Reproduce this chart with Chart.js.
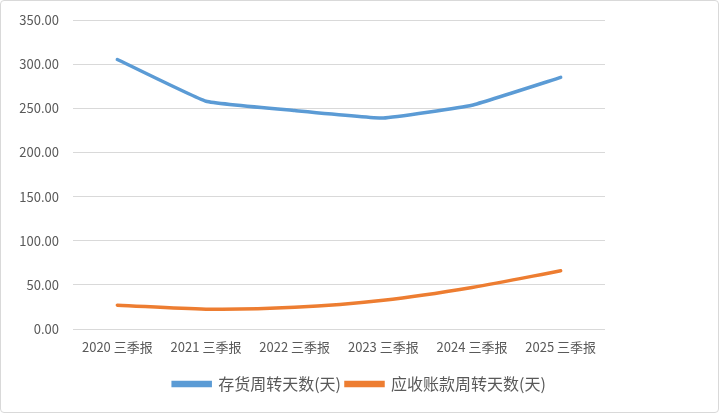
<!DOCTYPE html>
<html>
<head>
<meta charset="utf-8">
<script src="https://cdn.jsdelivr.net/npm/chart.js@4/dist/chart.umd.min.js"></script>
<style>
  html, body { margin: 0; padding: 0; background: #fff; }
  #wrap { position: relative; width: 717px; height: 411px; border: 1px solid #d9d9d9; border-radius: 4px; }
  canvas { display: block; }
</style>
</head>
<body>
<div id="wrap"><canvas id="c" width="717" height="411"></canvas></div>
<script>
const categories = ["2020 三季报", "2021 三季报", "2022 三季报", "2023 三季报", "2024 三季报", "2025 三季报"];
const inventoryDays = [305.3, 258.0, 247.5, 239.0, 253.5, 285.0];
const receivableDays = [27.0, 22.5, 24.5, 32.5, 47.0, 66.0];
const seriesNames = ["存货周转天数(天)", "应收账款周转天数(天)"];
const yTicks = [0, 50, 100, 150, 200, 250, 300, 350];

const blue = '#5b9bd5';
const orange = '#ed7d31';
const font = "'Noto Sans CJK SC', 'Open Sans', sans-serif";

new Chart(document.getElementById('c'), {
  type: 'line',
  data: {
    labels: categories,
    datasets: [
      {
        label: seriesNames[0],
        data: inventoryDays,
        borderColor: blue,
        backgroundColor: blue,
        borderWidth: 3.5,
        pointRadius: 0,
        tension: 0.1,
        borderCapStyle: 'round'
      },
      {
        label: seriesNames[1],
        data: receivableDays,
        borderColor: orange,
        backgroundColor: orange,
        borderWidth: 3.5,
        pointRadius: 0,
        tension: 0.3,
        borderCapStyle: 'round'
      }
    ]
  },
  options: {
    responsive: false,
    animation: false,
    layout: { padding: { left: 0, right: 0, top: 19, bottom: 10 } },
    plugins: {
      legend: {
        position: 'bottom',
        labels: {
          boxWidth: 37,
          boxHeight: 3,
          padding: 5,
          color: '#595959',
          font: { family: font, size: 16 }
        }
      },
      tooltip: { enabled: false }
    },
    scales: {
      x: {
        offset: true,
        grid: { display: false, drawTicks: false },
        border: { display: false },
        ticks: { color: '#595959', font: { family: font, size: 13 }, padding: 10, maxRotation: 0 },
        afterFit: s => { s.height = 42; }
      },
      y: {
        min: 0,
        max: 350,
        afterBuildTicks: s => { s.ticks = yTicks.map(v => ({ value: v })); },
        grid: { color: '#d9d9d9', lineWidth: 1, drawTicks: false },
        border: { display: false },
        ticks: {
          color: '#595959',
          font: { family: font, size: 13 },
          padding: 14,
          callback: v => Number(v).toFixed(2)
        },
        afterFit: s => { s.width = 72; s.paddingTop = 8; s.paddingBottom = 8; }
      },
      spacer: {
        position: 'right',
        min: 0,
        max: 1,
        grid: { display: false, drawTicks: false },
        border: { display: false },
        ticks: { display: false },
        afterFit: s => { s.width = 113; s.paddingTop = 0; s.paddingBottom = 0; }
      }
    }
  }
});
</script>
</body>
</html>
